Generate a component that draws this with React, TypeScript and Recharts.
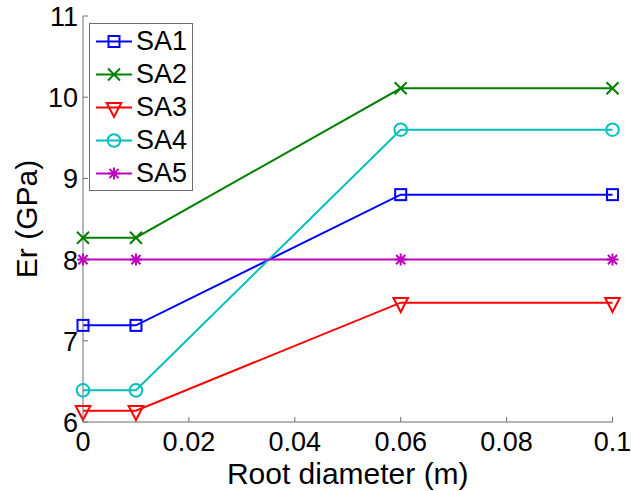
import { LineChart, Line, XAxis, YAxis, Label } from "recharts";

const diameters = [0, 0.01, 0.06, 0.1];
const sa1 = [7.19, 7.19, 8.8, 8.8];
const sa2 = [8.27, 8.27, 10.11, 10.11];
const sa3 = [6.14, 6.14, 7.47, 7.47];
const sa4 = [6.39, 6.39, 9.6, 9.6];
const sa5 = [8, 8, 8, 8];

const xTicks = [0, 0.02, 0.04, 0.06, 0.08, 0.1];
const yTicks = [6, 7, 8, 9, 10, 11];

const seriesNames = ["SA1", "SA2", "SA3", "SA4", "SA5"];
const seriesColors = ["#0000ff", "#008000", "#ff0000", "#00bfbf", "#bf00bf"];
const seriesMarkers = ["square", "x", "triangle", "circle", "star"];

const data = diameters.map((d, i) => ({
  d,
  SA1: sa1[i],
  SA2: sa2[i],
  SA3: sa3[i],
  SA4: sa4[i],
  SA5: sa5[i],
}));

const FONT = "'Liberation Sans', Arial, Helvetica, sans-serif";
const AXIS = "#6e6e6e";

const Marker = ({ type, cx, cy, color }: { type: string; cx: number; cy: number; color: string }) => {
  const sw = 2;
  if (type === "square")
    return <rect x={cx - 5.5} y={cy - 5.5} width={11} height={11} fill="none" stroke={color} strokeWidth={sw} />;
  if (type === "circle") return <circle cx={cx} cy={cy} r={6.3} fill="none" stroke={color} strokeWidth={sw} />;
  if (type === "triangle")
    return (
      <polygon
        points={`${cx - 7.3},${cy - 4.6} ${cx + 7.3},${cy - 4.6} ${cx},${cy + 9.4}`}
        fill="none"
        stroke={color}
        strokeWidth={sw}
      />
    );
  const s = 6;
  if (type === "x")
    return (
      <path d={`M${cx - s},${cy - s}L${cx + s},${cy + s}M${cx - s},${cy + s}L${cx + s},${cy - s}`} stroke={color} strokeWidth={sw} />
    );
  // star: plus + cross
  const d = 4.6;
  return (
    <path
      d={`M${cx - s},${cy}L${cx + s},${cy}M${cx},${cy - s}L${cx},${cy + s}M${cx - d},${cy - d}L${cx + d},${cy + d}M${cx - d},${cy + d}L${cx + d},${cy - d}`}
      stroke={color}
      strokeWidth={sw}
    />
  );
};

const BottomTick = (props: any) => {
  const { x, y, payload } = props;
  return (
    <g>
      <line x1={x} y1={y} x2={x} y2={y - 5} stroke={AXIS} strokeWidth={1} />
      <text x={x} y={y + 29} textAnchor="middle" fontSize={27} fontFamily={FONT} fill="#000">
        {String(payload.value)}
      </text>
    </g>
  );
};

const TopTick = (props: any) => {
  const { x, y } = props;
  return <line x1={x} y1={y} x2={x} y2={y + 5} stroke={AXIS} strokeWidth={1} />;
};

const LeftTick = (props: any) => {
  const { x, y, payload } = props;
  return (
    <g>
      <line x1={x} y1={y} x2={x + 5} y2={y} stroke={AXIS} strokeWidth={1} />
      <text x={x - 5} y={y + 10} textAnchor="end" fontSize={27} fontFamily={FONT} fill="#000">
        {String(payload.value)}
      </text>
    </g>
  );
};

const RightTick = (props: any) => {
  const { x, y } = props;
  return <line x1={x} y1={y} x2={x - 5} y2={y} stroke={AXIS} strokeWidth={1} />;
};

const XTitle = (props: any) => {
  const vb = props.viewBox;
  return (
    <text x={vb.x + vb.width / 2} y={vb.y + 62} textAnchor="middle" fontSize={30} fontFamily={FONT} fill="#000">
      Root diameter (m)
    </text>
  );
};

const YTitle = (props: any) => {
  const vb = props.viewBox;
  const cy = vb.y + vb.height / 2;
  return (
    <text x={37} y={cy} transform={`rotate(-90, 37, ${cy})`} textAnchor="middle" fontSize={30} fontFamily={FONT} fill="#000">
      Er (GPa)
    </text>
  );
};

const LegendBox = () => (
  <div
    style={{
      position: "absolute",
      left: 89,
      top: 23,
      width: 104,
      height: 168,
      boxSizing: "border-box",
      border: `1px solid ${AXIS}`,
      background: "#fff",
      fontFamily: FONT,
    }}
  >
    {seriesNames.map((name, i) => (
      <div key={name} style={{ position: "absolute", left: 0, top: 1 + i * 33, height: 33, width: 102 }}>
        <svg width={46} height={33} style={{ position: "absolute", left: 0, top: 0 }}>
          <line x1={6} y1={16.5} x2={42} y2={16.5} stroke={seriesColors[i]} strokeWidth={2} />
          <Marker type={seriesMarkers[i]} cx={24} cy={16.5} color={seriesColors[i]} />
        </svg>
        <span style={{ position: "absolute", left: 46, top: 0, lineHeight: "33px", fontSize: 27, color: "#000" }}>
          {name}
        </span>
      </div>
    ))}
  </div>
);

export default function App() {
  return (
    <div style={{ position: "absolute", left: 0, top: 0, width: 631, height: 491, background: "#fff", fontFamily: FONT }}>
      <LineChart width={631} height={491} data={data} margin={{ top: 16, right: 18.5, bottom: 0, left: 0 }}>
        <XAxis
          dataKey="d"
          type="number"
          domain={[0, 0.1]}
          ticks={xTicks}
          interval={0}
          height={69}
          tickSize={0}
          tickMargin={0}
          tickLine={false}
          tick={<BottomTick />}
          axisLine={{ stroke: AXIS }}
        >
          <Label content={<XTitle />} />
        </XAxis>
        <XAxis
          xAxisId="top"
          orientation="top"
          dataKey="d"
          type="number"
          domain={[0, 0.1]}
          ticks={xTicks}
          interval={0}
          height={0}
          tickSize={0}
          tickMargin={0}
          tickLine={false}
          tick={<TopTick />}
          axisLine={{ stroke: AXIS }}
        />
        <YAxis
          type="number"
          domain={[6, 11]}
          ticks={yTicks}
          interval={0}
          width={83}
          tickSize={0}
          tickMargin={0}
          tickLine={false}
          tick={<LeftTick />}
          axisLine={{ stroke: AXIS }}
        >
          <Label content={<YTitle />} />
        </YAxis>
        <YAxis
          yAxisId="right"
          orientation="right"
          type="number"
          domain={[6, 11]}
          ticks={yTicks}
          interval={0}
          width={0}
          tickSize={0}
          tickMargin={0}
          tickLine={false}
          tick={<RightTick />}
          axisLine={{ stroke: AXIS }}
        />
        {seriesNames.map((name, i) => (
          <Line
            key={name}
            dataKey={name}
            type="linear"
            stroke={seriesColors[i]}
            strokeWidth={2}
            isAnimationActive={false}
            activeDot={false}
            dot={(p: any) => (
              <Marker key={`${name}-${p.index}`} type={seriesMarkers[i]} cx={p.cx} cy={p.cy} color={seriesColors[i]} />
            )}
          />
        ))}
      </LineChart>
      <LegendBox />
    </div>
  );
}
